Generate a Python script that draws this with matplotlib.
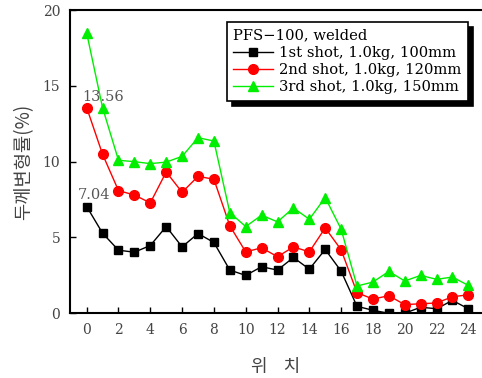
import numpy as np
import matplotlib.pyplot as plt

# positions along the specimen
pos = np.arange(25)

shot1 = [7.04, 5.28, 4.16, 4.03, 4.47, 5.72, 4.38, 5.26, 4.67, 2.85, 2.50, 3.07,
         2.85, 3.68, 2.91, 4.21, 2.78, 0.46, 0.20, 0.0, 0.0, 0.40, 0.30, 0.85, 0.30]
shot2 = [13.56, 10.48, 8.09, 7.80, 7.28, 9.32, 7.98, 9.03, 8.84, 5.77, 4.05, 4.32,
         3.73, 4.38, 4.05, 5.63, 4.19, 1.36, 0.94, 1.16, 0.57, 0.63, 0.68, 1.09, 1.22]
shot3 = [18.48, 13.55, 10.09, 10.0, 9.87, 9.97, 10.35, 11.58, 11.36, 6.64, 5.72, 6.47,
         6.03, 6.95, 6.2, 7.63, 5.55, 1.80, 2.06, 2.76, 2.13, 2.50, 2.24, 2.39, 1.84]

labels = ['1st shot, 1.0kg, 100mm', '2nd shot, 1.0kg, 120mm', '3rd shot, 1.0kg, 150mm']

plt.rcParams['font.family'] = ['DejaVu Serif', 'Noto Sans CJK KR']

fig = plt.figure(figsize=(4.82, 3.78), dpi=100)
ax = fig.add_axes([70 / 482, (378 - 313.3) / 378, 412 / 482, 303.3 / 378])

ax.plot(pos, shot1, color='black', marker='s', markersize=6, lw=1, label=labels[0])
ax.plot(pos, shot2, color='red', marker='o', markersize=7, lw=1, label=labels[1])
ax.plot(pos, shot3, color='#00ee00', marker='^', markersize=7, lw=1, label=labels[2])

ax.text(-0.3, 13.56 + 0.25, '13.56', fontsize=10.5, color='#555555', va='bottom')
ax.text(-0.55, 7.04 + 0.3, '7.04', fontsize=10.5, color='#555555', va='bottom')

ax.set_xlim(-1.05, 24.86)
ax.set_ylim(0, 20)
ax.set_xticks(range(0, 25, 2))
ax.set_yticks([0, 5, 10, 15, 20])
ax.tick_params(direction='in', length=4, width=1, labelsize=10, labelcolor='#444444', pad=7)
for s in ['left', 'bottom', 'top']:
    ax.spines[s].set_linewidth(1.5)
ax.spines['right'].set_visible(False)

ax.set_xlabel('위    치', family=['Noto Sans CJK KR'], fontsize=13, color='#444444', labelpad=15)
ax.set_ylabel('두께변형률(%)', family=['Noto Sans CJK KR', 'DejaVu Sans'], fontsize=13.5,
              color='#444444', labelpad=6)

leg = ax.legend(loc='upper left', bbox_to_anchor=(0.38, 0.961), borderaxespad=0,
                title='PFS\u2212100, welded', alignment='left', fontsize=10.6,
                title_fontsize=10.6, fancybox=False, framealpha=1, edgecolor='black',
                handlelength=2.7, labelspacing=0.22, borderpad=0.45, handletextpad=0.4,
                shadow={'ox': 4, 'oy': -4, 'facecolor': 'black', 'edgecolor': 'black', 'alpha': 1})
leg.get_frame().set_linewidth(1.2)

fig.savefig('out.png', dpi=100)
